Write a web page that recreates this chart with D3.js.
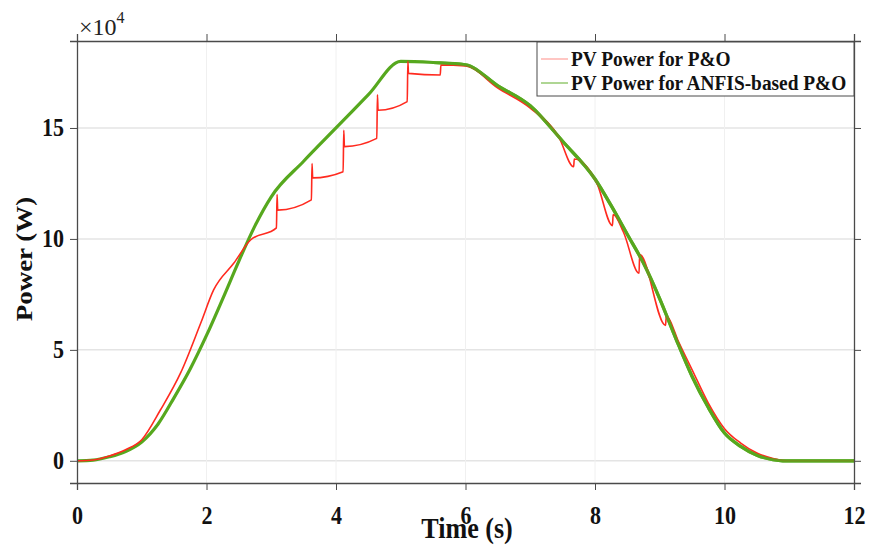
<!DOCTYPE html>
<html>
<head>
<meta charset="utf-8">
<script src="https://cdn.jsdelivr.net/npm/d3@7"></script>
<style>
  body { margin: 0; background: #fff; }
  text { font-family: "Liberation Serif", "Times New Roman", serif; }
</style>
</head>
<body>
<div id="chart"></div>
<script>
// values in units of 1e4 W
const xTicks = [0, 2, 4, 6, 8, 10, 12];
const yTicks = [0, 5, 10, 15];

// ANFIS-based P&O (green)
const anfisT = [0, 0.25, 0.5, 0.75, 1.0, 1.25, 1.5, 1.75, 2.0, 2.25, 2.5, 2.75, 3.0, 3.5, 4.0, 4.5, 5.0,
  5.5, 6.0, 6.5, 7.0, 7.5, 8.0, 8.25, 8.5, 8.75, 9.0, 9.25, 9.5, 9.75, 10.0, 10.25, 10.5, 10.75, 10.9, 12];
const anfisP = [0, 0.03, 0.18, 0.42, 0.85, 1.65, 2.85, 4.15, 5.65, 7.3, 9.0, 10.6, 11.9, 13.5, 15.0, 16.5, 18.0,
  17.95, 17.85, 16.9, 16.0, 14.4, 12.7, 11.5, 10.2, 8.9, 7.3, 5.5, 3.8, 2.4, 1.25, 0.65, 0.25, 0.05, 0, 0];

// P&O (red)
const poT = [0, 0.25, 0.5, 0.75, 1.0, 1.29, 1.6, 1.91, 2.11, 2.42, 2.68, 3.08, 3.09, 3.1, 3.62, 3.63, 3.64,
  4.11, 4.12, 4.13, 4.63, 4.64, 4.65, 5.1, 5.11, 5.12, 5.61, 5.62, 6.0, 6.5, 7.0, 7.44, 7.67, 7.68,
  8.03, 8.27, 8.28, 8.44, 8.68, 8.69, 9.09, 9.1, 9.3, 9.5, 9.75, 10.0, 10.25, 10.5, 10.75, 10.95, 12];
const poP = [0, 0.04, 0.22, 0.5, 0.95, 2.3, 3.96, 6.2, 7.7, 8.9, 9.95, 10.5, 12.0, 11.3, 11.76, 13.4, 12.75,
  13.03, 14.9, 14.16, 14.53, 16.5, 15.8, 16.19, 18.0, 17.46, 17.39, 17.84, 17.8, 16.8, 15.9, 14.6, 13.25, 13.6,
  12.5, 10.6, 11.1, 10.3, 8.45, 9.3, 6.1, 6.5, 5.3, 4.1, 2.6, 1.45, 0.8, 0.35, 0.1, 0, 0];

const seriesNames = ["PV Power for P&O", "PV Power for ANFIS-based P&O"];
const seriesColors = ["#ff2a1f", "#56a81e"];

const W = 869, H = 546;
const margin = {top: 41, right: 15, bottom: 63, left: 77};
const iw = W - margin.left - margin.right;
const ih = H - margin.top - margin.bottom;

const svg = d3.select("#chart").append("svg")
  .attr("width", W)
  .attr("height", H);

const g = svg.append("g")
  .attr("transform", "translate(" + margin.left + "," + margin.top + ")");

const x = d3.scaleLinear().domain([0, 12]).range([0, iw]);
const y = d3.scaleLinear().domain([-1.0, 18.92]).range([ih, 0]);

// grid
g.append("g").selectAll("line")
  .data(yTicks)
  .enter().append("line")
  .attr("x1", 0).attr("x2", iw)
  .attr("y1", d => y(d)).attr("y2", d => y(d))
  .attr("stroke", "#e4e4e4").attr("stroke-width", 1.5);
g.append("g").selectAll("line")
  .data(xTicks.slice(1, -1))
  .enter().append("line")
  .attr("x1", d => x(d)).attr("x2", d => x(d))
  .attr("y1", 0).attr("y2", ih)
  .attr("stroke", "#f0f0f0").attr("stroke-width", 1);

// lines
const line = d3.line()
  .x(d => x(d[0]))
  .y(d => y(d[1]))
  .curve(d3.curveMonotoneX);

const green = anfisT.map((t, i) => [t, anfisP[i]]);

g.append("path")
  .datum(green)
  .attr("fill", "none")
  .attr("stroke", seriesColors[1])
  .attr("stroke-width", 3.2)
  .attr("stroke-linejoin", "round")
  .attr("d", line);

g.append("path")
  .datum(poT.map((t, i) => [t, poP[i]]))
  .attr("fill", "none")
  .attr("stroke", seriesColors[0])
  .attr("stroke-width", 1.6)
  .attr("stroke-linejoin", "round")
  .attr("d", line);

// green again on the falling side, it sits over the red there
g.append("path")
  .datum(green.filter(d => d[0] >= 5.5))
  .attr("fill", "none")
  .attr("stroke", seriesColors[1])
  .attr("stroke-width", 3.2)
  .attr("stroke-opacity", 0.85)
  .attr("stroke-linejoin", "round")
  .attr("d", line);

// axes
const axisColor = "#4a4a4a";
const bottomAxis = g.append("g")
  .attr("transform", "translate(0," + ih + ")")
  .call(d3.axisBottom(x).tickValues(xTicks).tickSize(7).tickPadding(16));
const topAxis = g.append("g")
  .call(d3.axisTop(x).tickValues(xTicks).tickSize(7).tickFormat(""));
const leftAxis = g.append("g")
  .call(d3.axisLeft(y).tickValues(yTicks).tickSize(7).tickPadding(4));
const rightAxis = g.append("g")
  .attr("transform", "translate(" + iw + ",0)")
  .call(d3.axisRight(y).tickValues(yTicks).tickSize(7).tickFormat(""));

[bottomAxis, topAxis, leftAxis, rightAxis].forEach(a => {
  a.select(".domain").attr("stroke", axisColor).attr("stroke-width", 1.3);
  a.selectAll(".tick line").attr("stroke", axisColor).attr("stroke-width", 1);
  a.selectAll(".tick text")
    .attr("fill", "#111")
    .style("font-family", "'Liberation Serif', serif")
    .style("font-weight", "bold")
    .style("font-size", "25px")
    .attr("transform", "scale(0.88,1)");
});
leftAxis.selectAll(".tick text").attr("x", -13 / 0.88);

// x10^4 label
const mult = svg.append("text")
  .attr("x", 79).attr("y", 35)
  .attr("fill", "#222")
  .style("font-size", "24px");
mult.append("tspan").text("\u00d710");
mult.append("tspan").attr("dy", -12).style("font-size", "16px").text("4");

// axis titles
svg.append("text")
  .attr("transform", "translate(467,538) scale(0.87,1)")
  .attr("text-anchor", "middle")
  .attr("fill", "#111")
  .style("font-weight", "bold")
  .style("font-size", "30px")
  .text("Time (s)");

svg.append("text")
  .attr("transform", "translate(32,259) rotate(-90) scale(1,0.87)")
  .attr("text-anchor", "middle")
  .attr("fill", "#111")
  .style("font-weight", "bold")
  .style("font-size", "27px")
  .text("Power (W)");

// legend
const legend = svg.append("g").attr("transform", "translate(537,42)");
legend.append("rect")
  .attr("width", 317).attr("height", 54)
  .attr("fill", "#fff")
  .attr("stroke", axisColor).attr("stroke-width", 1);
seriesNames.forEach((name, i) => {
  const ly = 17 + i * 24;
  legend.append("line")
    .attr("x1", 4).attr("x2", 31)
    .attr("y1", ly).attr("y2", ly)
    .attr("stroke", seriesColors[i])
    .attr("stroke-opacity", i === 0 ? 0.45 : 0.8)
    .attr("stroke-width", 1.2);
  legend.append("text")
    .attr("transform", "translate(34," + (ly + 7) + ") scale(0.88,1)")
    .attr("fill", "#111")
    .style("font-weight", "bold")
    .style("font-size", "22px")
    .text(name);
});
</script>
</body>
</html>
